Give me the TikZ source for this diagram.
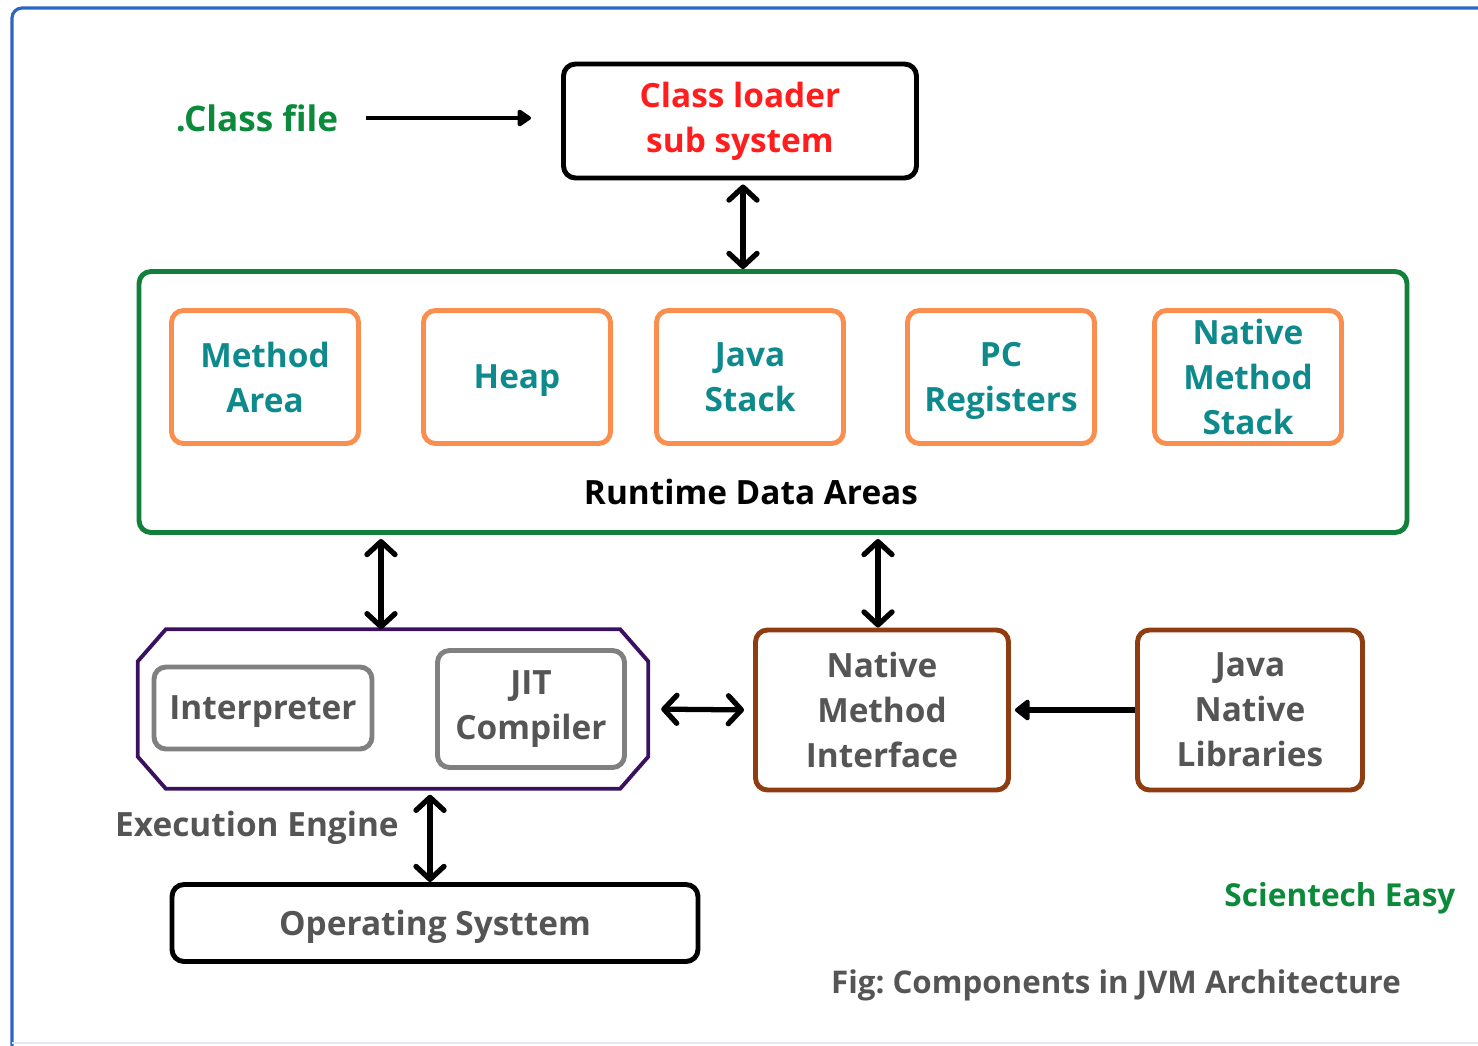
\documentclass[tikz,border=0pt]{standalone}
\usepackage{fontspec}
\setmainfont{Open Sans}
\usetikzlibrary{arrows.meta}
\definecolor{frameblue}{HTML}{2C66C2}
\definecolor{loaderred}{HTML}{FF1E1E}
\definecolor{easygreen}{HTML}{0B8A3C}
\definecolor{rdagreen}{HTML}{11803A}
\definecolor{areaorange}{HTML}{FA8E4E}
\definecolor{areateal}{HTML}{0F8A8C}
\definecolor{engpurple}{HTML}{3A1160}
\definecolor{toolgray}{HTML}{808080}
\definecolor{textgray}{HTML}{555555}
\definecolor{nativebrown}{HTML}{8E3C10}
\tikzset{
  box/.style={draw, rounded corners=1.2mm, line width=1.4pt, align=center, inner sep=0pt},
  area/.style={box, draw=areaorange, text=areateal, minimum width=18.7mm, minimum height=13.3mm},
  tool/.style={box, draw=toolgray, text=textgray},
  native/.style={box, draw=nativebrown, text=textgray, minimum height=16mm},
  link/.style={line width=1.5pt, {Straight Barb[length=1.3mm,width=2.8mm,line cap=round,line join=round]}-{Straight Barb[length=1.3mm,width=2.8mm,line cap=round,line join=round]}},
  feed/.style={line width=1.1pt, -{Triangle[length=1.5mm,width=1.9mm,round]}}
}
\begin{document}
\frenchspacing
\begin{tikzpicture}[x=0.1mm,y=-0.1mm,font=\fontsize{9.5}{12.8}\selectfont\bfseries]
\useasboundingbox (0,0) rectangle (1478,1046);
% frame
\draw[frameblue,line width=0.9pt,rounded corners=1mm] (1478,8) -- (12,8) -- (12,1046);
\draw[frameblue!15,line width=0.6pt] (12,1043) -- (1478,1043);
% class loader
\node[text=easygreen,font=\fontsize{10}{12}\selectfont\bfseries] (cls) at (257,118) {.Class file};
\node[box,minimum width=35.3mm,minimum height=11.4mm,text=loaderred] (loader) at (740,121) {Class loader\\sub system};
\draw[feed,shorten <=1.5mm,shorten >=3mm] (cls.east) -- (cls.east -| loader.west);
% runtime data areas
\node[box,draw=rdagreen,minimum width=126.8mm,minimum height=26.1mm] (rda) at (773,402) {};
\node[area] (method) at (265,377) {Method\\Area};
\node[area,text depth=0pt] (heap) at (517,377) {Heap};
\node[area] (jstack) at (750,377) {Java\\Stack};
\node[area,text depth=0pt] (pc) at (1001,377) {PC\\Registers};
\node[area] (nstack) at (1248,377) {Native\\Method\\Stack};
\node (rdalabel) at (751,492) {Runtime Data Areas};
\draw[link] (743,0 |- loader.south) ++(0,4) -- (743,0 |- rda.north);
% execution engine
\node[minimum width=50.9mm,minimum height=15.8mm,inner sep=0pt] (eng) at (393,709) {};
\draw[engpurple,line width=1.1pt] ([xshift=2.8mm]eng.north west) -- ([xshift=-2.8mm]eng.north east)
  -- ([yshift=-3.2mm]eng.north east) -- ([yshift=3.2mm]eng.south east)
  -- ([xshift=-2.8mm]eng.south east) -- ([xshift=2.8mm]eng.south west)
  -- ([yshift=3.2mm]eng.south west) -- ([yshift=-3.2mm]eng.north west) -- cycle;
\node[tool,text depth=0pt,minimum width=21.8mm,minimum height=8.2mm] (interp) at (263,708) {Interpreter};
\node[tool,minimum width=18.7mm,minimum height=11.7mm] (jit) at (531,709) {JIT\\Compiler};
\node[text=textgray] (englabel) at (257,828) {Execution Engine};
\draw[link] (381,0 |- rda.south) ++(0,4) -- (381,0 |- eng.north);
% native side
\node[native,minimum width=25.3mm] (nmi) at (882,710) {Native\\Method\\Interface};
\node[native,minimum width=22.5mm] (jnl) at (1250,710) {Java\\Native\\Libraries};
\draw[link] (878,0 |- rda.south) ++(0,4) -- (878,0 |- nmi.north);
\draw[link,shorten <=1.3mm,shorten >=0.9mm] (eng.east) -- (nmi.west);
\draw[line width=1.8pt,-{Triangle[length=1.6mm,width=2.4mm,round]},shorten >=0.4mm] (jnl.west) -- (nmi.east);
% operating system
\node[box,text depth=0pt,minimum width=52.6mm,minimum height=7.7mm,text=textgray] (os) at (435,923) {Operating Systtem};
\draw[link] (430,0 |- eng.south) ++(0,6) -- (430,0 |- os.north);
% captions
\node[text=easygreen,font=\fontsize{9}{11}\selectfont\bfseries] (brand) at (1340,898) {Scientech Easy};
\node[text=textgray,font=\fontsize{8.9}{11}\selectfont\bfseries] (caption) at (1116,985) {Fig: Components in JVM Architecture};
\end{tikzpicture}
\end{document}
